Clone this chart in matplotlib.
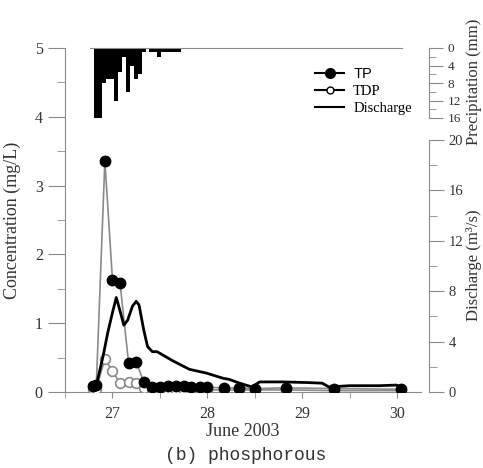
import numpy as np
import matplotlib
matplotlib.use("Agg")
import matplotlib.pyplot as plt
from matplotlib.lines import Line2D

# sampling times (day of June 2003) and concentrations (mg/L)
tp_time = [26.79, 26.83, 26.92, 27.00, 27.08, 27.17, 27.25, 27.33, 27.42, 27.50, 27.58,
           27.67, 27.75, 27.83, 27.92, 28.00, 28.17, 28.33, 28.50, 28.83, 29.33, 30.04]
tp = [0.08, 0.10, 3.36, 1.63, 1.58, 0.42, 0.44, 0.14, 0.07, 0.07, 0.08,
      0.08, 0.08, 0.07, 0.07, 0.07, 0.06, 0.06, 0.05, 0.06, 0.05, 0.04]
tdp = [0.04, 0.05, 0.48, 0.30, 0.13, 0.15, 0.13, 0.06, 0.03, 0.03, 0.03,
       0.03, 0.03, 0.03, 0.03, 0.03, 0.03, 0.03, 0.03, 0.03, 0.02, 0.02]

# discharge (m3/s)
q_time = [26.78, 26.83, 26.90, 26.95, 27.00, 27.04, 27.07, 27.12, 27.16, 27.21, 27.25,
          27.28, 27.33, 27.37, 27.42, 27.47, 27.63, 27.81, 27.99, 28.16, 28.23, 28.34,
          28.47, 28.55, 28.80, 29.05, 29.21, 29.28, 29.50, 29.81, 29.99, 30.04]
q = [0.15, 0.55, 2.8, 4.7, 6.3, 7.5, 6.7, 5.3, 5.7, 6.8, 7.2,
     6.9, 4.9, 3.6, 3.2, 3.2, 2.5, 1.8, 1.5, 1.1, 1.0, 0.7,
     0.4, 0.8, 0.8, 0.75, 0.7, 0.4, 0.5, 0.5, 0.55, 0.4]

# hourly precipitation (mm), start of each hour
p_time = [26.807, 26.849, 26.890, 26.932, 26.974, 27.015, 27.057, 27.099, 27.140, 27.182, 27.224,
          27.265, 27.307, 27.390, 27.432, 27.474, 27.515, 27.557, 27.599, 27.640, 27.682]
precip = [16, 16, 8, 7, 7, 12, 5.5, 2, 10, 4, 7,
          6, 1, 1, 1, 2, 1, 1, 1, 1, 1]

x_ticks = [27, 28, 29, 30]

plt.rcParams['font.family'] = ['Liberation Serif', 'DejaVu Sans']
grey = '#8a8a8a'
txt = '#333333'

fig = plt.figure(figsize=(4.83, 4.68), dpi=100)
ax = fig.add_axes([65/483, 76/468, 356/483, 344/468])
ax2 = ax.twinx()
ax3 = ax.twinx()

# concentrations
ax.plot(tp_time, tdp, color=grey, lw=1.2, marker='o', ms=7, mfc='white', mec=grey, mew=1.2, zorder=3)
ax.plot(tp_time, tp, color=grey, lw=1.2, marker='o', ms=7.5, mfc='black', mec='black', zorder=4)
ax.set_xlim(26.5, 30.25)
ax.set_ylim(0, 5)
ax.set_xticks(x_ticks)
ax.set_xticks([26.5, 27.5, 28.5, 29.5], minor=True)
ax.set_yticks([0, 1, 2, 3, 4, 5])
ax.set_yticks(np.arange(0.5, 5, 1.0), minor=True)
for s in ['top', 'right']:
    ax.spines[s].set_visible(False)
for s in ['left', 'bottom']:
    ax.spines[s].set_color(grey)
ax.tick_params(axis='y', which='major', direction='out', length=12, color=grey, labelcolor=txt, labelsize=11.5, pad=4)
ax.tick_params(axis='y', which='minor', direction='out', length=6, color=grey)
ax.tick_params(axis='x', which='both', direction='out', length=4, color=grey, labelcolor=txt, labelsize=11.5, pad=6)
ax.set_ylabel('Concentration (mg/L)', fontsize=13, color=txt, labelpad=10)
ax.set_xlabel('June 2003', fontsize=13, color=txt, labelpad=1)

# discharge
ax2.plot(q_time, q, color='black', lw=2, zorder=5)
ax2.set_ylim(0, 344/12.6)
ax2.set_yticks([0, 4, 8, 12, 16, 20])
ax2.set_yticks([2, 6, 10, 14, 18], minor=True)
for s in ['top', 'left', 'bottom']:
    ax2.spines[s].set_visible(False)
ax2.spines['right'].set_position(('outward', 6))
ax2.spines['right'].set_bounds(0, 20)
ax2.spines['right'].set_color(grey)
ax2.tick_params(axis='y', which='major', length=11, color=grey, labelcolor=txt, labelsize=10.5, pad=3)
ax2.tick_params(axis='y', which='minor', length=6, color=grey)

# precipitation hanging from top
ax3.bar(p_time, precip, width=1/24, align='edge', color='black', linewidth=0)
ax3.set_ylim(344/4.375, 0)
ax3.set_yticks([0, 4, 8, 12, 16])
ax3.set_yticks([2, 6, 10, 14], minor=True)
for s in ['left', 'bottom']:
    ax3.spines[s].set_visible(False)
ax3.spines['top'].set_bounds(26.76, 30.05)
ax3.spines['top'].set_color(grey)
ax3.spines['right'].set_position(('outward', 6))
ax3.spines['right'].set_bounds(0, 16)
ax3.spines['right'].set_color(grey)
ax3.tick_params(axis='y', which='major', length=10, color=grey, labelcolor=txt, labelsize=9.5, pad=3)
ax3.tick_params(axis='y', which='minor', length=5, color=grey)

fig.text(474/483, 1 - 82/468, 'Precipitation (mm)', rotation=90, ha='center', va='center', fontsize=12, color=txt)
fig.text(474/483, 1 - 265/468, 'Discharge (m³/s)', rotation=90, ha='center', va='center', fontsize=12, color=txt)

handles = [Line2D([], [], color='black', lw=1.5, marker='o', ms=7, mfc='black', mec='black'),
           Line2D([], [], color='black', lw=1.5, marker='o', ms=5, mfc='white', mec='black'),
           Line2D([], [], color='black', lw=1.5)]
leg = ax3.legend(handles, ['TP', 'TDP', 'Discharge'], loc='upper left', frameon=False,
                 bbox_to_anchor=(308/483, 1 - 60/468), bbox_transform=fig.transFigure,
                 fontsize=10.5, handlelength=2.0, handletextpad=0.6, labelspacing=0.25, borderpad=0)
leg.get_texts()[0].set_family('Liberation Sans')

fig.text(246/483, 1 - 455/468, '(b) phosphorous', ha='center', va='center', fontsize=13,
         family='Liberation Mono', color=txt)

plt.savefig('out.png', dpi=100)
